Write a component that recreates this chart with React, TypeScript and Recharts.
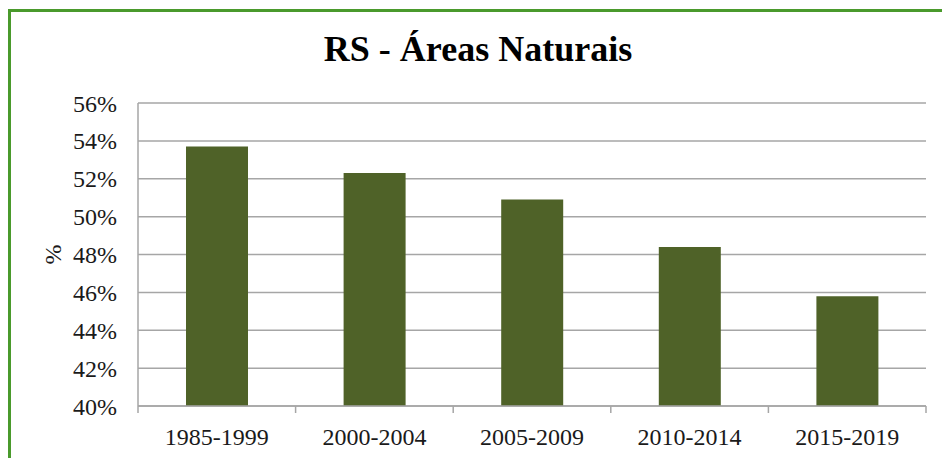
import React from "react";
import { BarChart, Bar, XAxis, YAxis, CartesianGrid } from "recharts";

const periods = ["1985-1999", "2000-2004", "2005-2009", "2010-2014", "2015-2019"];
const naturalAreas = [53.7, 52.3, 50.9, 48.4, 45.8];
const yTicks = [40, 42, 44, 46, 48, 50, 52, 54, 56];

const data = periods.map((p, i) => ({ period: p, value: naturalAreas[i] }));

const FONT = "'Liberation Serif', 'Times New Roman', serif";
const GRAY = "#a6a6a6";
const TICK_MARGIN = 22;
const TICK_LEN = 7;

function CategoryTick(props: any) {
  const { x, y, payload, index, visibleTicksCount, width } = props;
  const half = width / visibleTicksCount / 2;
  const axisY = y - TICK_MARGIN;
  return (
    <g>
      <line x1={x - half} x2={x - half} y1={axisY} y2={axisY + TICK_LEN} stroke={GRAY} strokeWidth={1.5} />
      {index === visibleTicksCount - 1 && (
        <line x1={x + half} x2={x + half} y1={axisY} y2={axisY + TICK_LEN} stroke={GRAY} strokeWidth={1.5} />
      )}
      <text x={x} y={y} dy="0.71em" textAnchor="middle" fontFamily={FONT} fontSize={24} fill="#1a1a1a">
        {payload.value}
      </text>
    </g>
  );
}

export default function App() {
  return (
    <div style={{ position: "absolute", left: 0, top: 0, width: 942, height: 458, overflow: "hidden", background: "#fff" }}>
      <div
        style={{
          position: "absolute",
          left: 8,
          top: 9,
          width: 980,
          height: 480,
          border: "3px solid #4a9a2c",
          boxSizing: "border-box",
        }}
      />
      <div
        style={{
          position: "absolute",
          left: 0,
          top: 26,
          width: 956,
          textAlign: "center",
          fontFamily: FONT,
          fontWeight: "bold",
          fontSize: 36,
          lineHeight: "46px",
          color: "#000",
        }}
      >
        RS - Áreas Naturais
      </div>
      <div style={{ position: "absolute", left: 0, top: 0 }}>
        <BarChart
          width={942}
          height={458}
          data={data}
          margin={{ top: 103, right: 16, bottom: 0, left: 0 }}
          barSize={62}
        >
          <CartesianGrid vertical={false} stroke={GRAY} strokeWidth={1.5} />
          <XAxis
            dataKey="period"
            height={52}
            axisLine={{ stroke: GRAY, strokeWidth: 1.5 }}
            tickLine={false}
            tickSize={0}
            tickMargin={TICK_MARGIN}
            tick={<CategoryTick />}
            interval={0}
          />
          <YAxis
            width={138}
            domain={[40, 56]}
            ticks={yTicks}
            allowDataOverflow
            tickFormatter={(v: number) => `${v}%`}
            tickLine={false}
            tickSize={0}
            tickMargin={21}
            axisLine={{ stroke: GRAY, strokeWidth: 1.5 }}
            tick={{ fontFamily: FONT, fontSize: 24, fill: "#1a1a1a" }}
            label={{
              value: "%",
              angle: -90,
              position: "insideLeft",
              offset: 52,
              style: { fontFamily: FONT, fontSize: 24, fill: "#1a1a1a", textAnchor: "middle" },
            }}
          />
          <Bar dataKey="value" fill="#4f6228" isAnimationActive={false} />
        </BarChart>
      </div>
    </div>
  );
}
